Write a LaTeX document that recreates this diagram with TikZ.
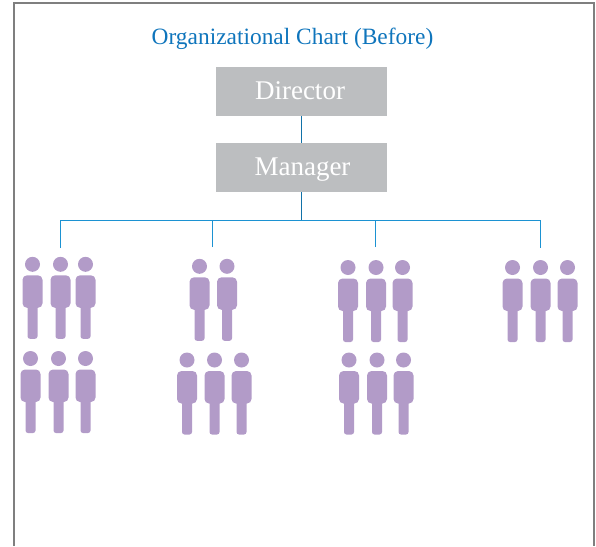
\documentclass[tikz,border=0pt]{standalone}
\usepackage{fontspec}
\setmainfont{Liberation Serif}
\definecolor{boxgray}{HTML}{BCBEC0}
\definecolor{titleblue}{HTML}{0F75BC}
\definecolor{busblue}{HTML}{1C92D2}
\definecolor{stemblue}{HTML}{1272A8}
\definecolor{personpurple}{HTML}{B29BC8}
\definecolor{framegray}{HTML}{7F7F7F}
\tikzset{
  rolebox/.style={fill=boxgray,draw=none,minimum width=171pt,minimum height=49pt,inner sep=0pt},
  rolelabel/.style={text=white,font=\fontsize{27}{30}\selectfont,anchor=base,inner sep=0pt},
  stem/.style={draw=stemblue,line width=0.9pt},
  bus/.style={draw=busblue,line width=0.9pt},
  figpart/.style={fill=personpurple,draw=none},
  person/.pic={
    \fill[figpart] (0,0) circle (7.5pt);
    \fill[figpart,rounded corners=2.5pt] (-5,40) -- (-5,74.5) -- (5,74.5) -- (5,40) -- cycle;
    \fill[figpart,rounded corners=4.5pt] (-10,11) rectangle (10,43.5);
  }
}
\begin{document}
\begin{tikzpicture}[x=1pt,y=-1pt]
\useasboundingbox (0,0) rectangle (596,546);
\draw[framegray,line width=1.6pt] (14,546) -- (14,3) -- (594,3) -- (594,546);
\node[text=titleblue,font=\fontsize{23.4}{26}\selectfont,anchor=base,inner sep=0pt] (title) at (292.5,44.5) {Organizational Chart (Before)};
\node[rolebox] (director) at (301.5,91.5) {};
\node[rolebox] (manager) at (301.5,167.5) {};
\node[rolelabel] (directorlabel) at (300,99.5) {Director};
\node[rolelabel] (managerlabel) at (302.5,175.5) {Manager};
\coordinate (busjoin) at (301.5,220.5);
\coordinate (busleft) at (60,220.5);
\coordinate (busright) at (540,220.5);
\coordinate (drop1) at (60,248);
\coordinate (drop2) at (212,247);
\coordinate (drop3) at (375,247);
\coordinate (drop4) at (540,248);
\draw[stem] (director.south) -- (manager.north);
\draw[stem] (manager.south) -- (busjoin);
\draw[bus] (drop1) -- (busleft) -- (busright) -- (drop4);
\draw[bus] (drop2) -- (drop2 |- busjoin);
\draw[bus] (drop3) -- (drop3 |- busjoin);
\foreach \px/\py in {32.5/264.3,60.5/264.3,85.5/264.3,199.5/266.3,227/266.3,348/267.5,376/267.5,402.5/267.5,512.5/267.5,540.5/267.5,567.5/267.5,30.5/358.5,58.5/358.5,85.5/358.5,187/360,214.5/360,241.5/360,349/360,377/360,403.5/360}
  \pic at (\px,\py) {person};
\end{tikzpicture}
\end{document}
